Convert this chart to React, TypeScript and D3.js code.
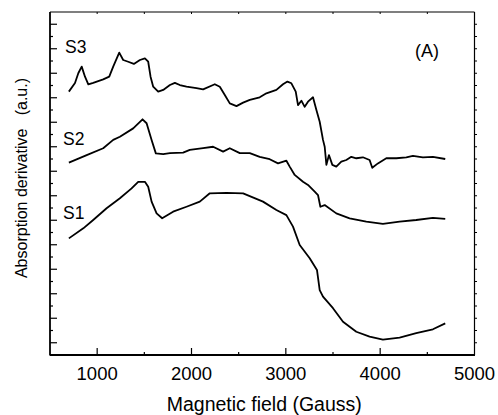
import React from "react";
import * as d3 from "d3";

const W = 498;
const H = 415;

// Magnetic field (Gauss) / absorption derivative (a.u., offset traces)
const s3Field = [700, 765, 800, 836, 871, 906, 958, 1064, 1128, 1170, 1234, 1276, 1329, 1389, 1453, 1506, 1541, 1566, 1594, 1647, 1700, 1771, 1824, 1876, 1947, 2053, 2123, 2247, 2300, 2353, 2406, 2477, 2547, 2618, 2723, 2794, 2900, 2970, 3017, 3059, 3105, 3129, 3165, 3200, 3235, 3288, 3324, 3359, 3394, 3412, 3430, 3457, 3493, 3535, 3588, 3641, 3694, 3747, 3817, 3888, 3916, 3976, 4065, 4171, 4277, 4347, 4453, 4559, 4690];
const s3Value = [10.75, 11.1, 11.5, 11.77, 11.36, 11.05, 11.11, 11.25, 11.36, 11.77, 12.34, 12.04, 11.97, 11.88, 12.04, 12.11, 11.97, 11.36, 10.95, 10.75, 10.82, 11.02, 11.11, 11.02, 10.95, 10.89, 10.84, 11.05, 10.95, 10.61, 10.27, 10.16, 10.3, 10.41, 10.52, 10.68, 10.82, 11.05, 11.16, 11.09, 10.75, 10.2, 10.38, 10.13, 10.34, 10.52, 10.0, 9.52, 8.78, 8.5, 7.76, 8.16, 7.76, 7.69, 7.89, 7.96, 8.09, 8.03, 8.07, 7.96, 7.64, 7.82, 8.03, 8.03, 8.07, 8.13, 8.07, 8.09, 8.0];

const s2Field = [700, 889, 1064, 1170, 1241, 1382, 1481, 1524, 1577, 1622, 1700, 1771, 1911, 1982, 2123, 2229, 2335, 2406, 2512, 2618, 2723, 2829, 2917, 3006, 3041, 3094, 3182, 3235, 3306, 3341, 3366, 3412, 3535, 3676, 3853, 4029, 4206, 4382, 4559, 4690];
const s2Value = [7.85, 8.16, 8.44, 8.78, 8.91, 9.25, 9.62, 9.46, 8.78, 8.23, 8.2, 8.24, 8.26, 8.37, 8.44, 8.5, 8.3, 8.44, 8.24, 8.24, 8.09, 7.99, 7.82, 7.93, 7.69, 7.35, 7.07, 6.94, 6.67, 6.53, 6.05, 6.12, 5.78, 5.58, 5.44, 5.35, 5.44, 5.51, 5.6, 5.56];

const s1Field = [700, 853, 958, 1100, 1241, 1365, 1435, 1506, 1541, 1577, 1630, 1689, 1805, 1947, 2088, 2194, 2371, 2547, 2758, 2900, 3006, 3076, 3147, 3253, 3330, 3359, 3394, 3500, 3606, 3747, 3888, 4029, 4206, 4382, 4559, 4690];
const s1Value = [4.76, 5.17, 5.51, 5.99, 6.4, 6.8, 7.07, 7.07, 6.87, 6.26, 5.78, 5.58, 5.85, 6.05, 6.26, 6.6, 6.62, 6.6, 6.26, 5.92, 5.71, 5.24, 4.49, 3.95, 3.47, 2.65, 2.38, 1.91, 1.36, 0.95, 0.75, 0.63, 0.71, 0.89, 1.05, 1.29];

const seriesLabels = ["S1", "S2", "S3"];
const xTickValues = [1000, 2000, 3000, 4000, 5000];
const xDomain = [500, 5000];
const yDomain = [0, 14];

const FONT = "'Liberation Sans', Arial, sans-serif";

export default function App() {
  const left = 50;
  const right = 474.5;
  const top = 12;
  const bottom = 355;

  const x = d3.scaleLinear().domain(xDomain).range([left, right]);
  const y = d3.scaleLinear().domain(yDomain).range([bottom, top]);

  const line = d3
    .line<[number, number]>()
    .x((d) => x(d[0]))
    .y((d) => y(d[1]))
    .curve(d3.curveLinear);

  const series = [
    { name: "S1", pts: s1Field.map((f, i) => [f, s1Value[i]] as [number, number]), lx: 63, ly: 219 },
    { name: "S2", pts: s2Field.map((f, i) => [f, s2Value[i]] as [number, number]), lx: 63, ly: 145 },
    { name: "S3", pts: s3Field.map((f, i) => [f, s3Value[i]] as [number, number]), lx: 65, ly: 53 },
  ];

  const yMajor = d3.range(0.5, 14, 1);
  const yMinor = d3.range(1, 14, 1);
  const xMinor = d3.range(1500, 5000, 1000);
  const xTopTicks = d3.range(1000, 5000, 500);
  const yRight = d3.range(0.5, 14, 0.5);

  return (
    <div style={{ position: "absolute", left: 0, top: 0 }}>
      <svg width={W} height={H} style={{ display: "block", background: "#fff" }}>
        {/* frame */}
        <line x1={left} x2={right} y1={top} y2={top} stroke="#000" strokeWidth={1.2} />
        <line x1={right} x2={right} y1={top} y2={bottom} stroke="#000" strokeWidth={1.2} />
        <line x1={left} x2={right + 0.5} y1={bottom} y2={bottom} stroke="#000" strokeWidth={1.8} />
        <line x1={left} x2={left} y1={top} y2={bottom + 0.5} stroke="#000" strokeWidth={1.8} />

        {/* left ticks */}
        {yMajor.map((v) => (
          <line key={"ym" + v} x1={left} x2={left + 7} y1={y(v)} y2={y(v)} stroke="#000" strokeWidth={1.2} />
        ))}
        {yMinor.map((v) => (
          <line key={"yn" + v} x1={left} x2={left + 3} y1={y(v)} y2={y(v)} stroke="#000" strokeWidth={1.2} />
        ))}
        {/* right ticks */}
        {yRight.map((v) => (
          <line key={"yr" + v} x1={right} x2={right + 2.5} y1={y(v)} y2={y(v)} stroke="#000" strokeWidth={1} />
        ))}
        {/* bottom ticks */}
        {xTickValues.filter((v) => v < 5000).map((v) => (
          <line key={"xm" + v} x1={x(v)} x2={x(v)} y1={bottom} y2={bottom - 7} stroke="#000" strokeWidth={1.2} />
        ))}
        {xMinor.map((v) => (
          <line key={"xn" + v} x1={x(v)} x2={x(v)} y1={bottom} y2={bottom - 3} stroke="#000" strokeWidth={1.2} />
        ))}
        {/* top ticks */}
        {xTopTicks.map((v) => (
          <line key={"xt" + v} x1={x(v)} x2={x(v)} y1={top} y2={top + 2} stroke="#000" strokeWidth={1} />
        ))}

        {/* x tick labels */}
        {xTickValues.map((v) => (
          <text key={"xl" + v} x={x(v)} y={380} textAnchor="middle" fontFamily={FONT} fontSize={18.5} fill="#000">
            {v}
          </text>
        ))}

        {/* axis titles */}
        <text x={(left + right) / 2 + 2} y={411} textAnchor="middle" fontFamily={FONT} fontSize={19.5} fill="#000">
          Magnetic field (Gauss)
        </text>
        <text
          transform={`translate(27,${178}) rotate(-90)`}
          textAnchor="middle"
          fontFamily={FONT}
          fontSize={16}
          fill="#000"
          style={{ whiteSpace: "pre" }}
        >
          {"Absorption derivative   (a.u.)"}
        </text>

        {/* curves */}
        {series.map((s) => (
          <path key={s.name} d={line(s.pts) || ""} fill="none" stroke="#000" strokeWidth={1.8} strokeLinejoin="round" />
        ))}

        {/* series labels */}
        {series.map((s, i) => (
          <text key={"lab" + s.name} x={s.lx} y={s.ly} fontFamily={FONT} fontSize={17.5} fill="#000">
            {seriesLabels[i]}
          </text>
        ))}
        <text x={415} y={57} fontFamily={FONT} fontSize={18} fill="#000">
          (A)
        </text>
      </svg>
    </div>
  );
}
